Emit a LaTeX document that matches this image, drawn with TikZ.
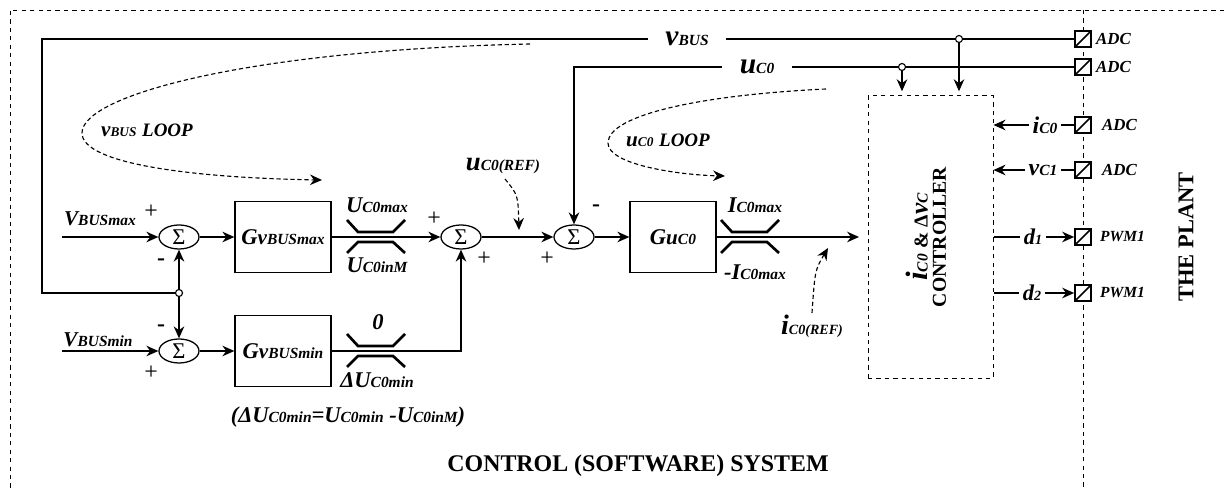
\documentclass[tikz,border=0pt]{standalone}
\usepackage{fontspec}
\setmainfont{Liberation Serif}
\usetikzlibrary{positioning}
\usetikzlibrary{arrows.meta}
\usetikzlibrary{shapes.geometric}
\usetikzlibrary{calc}

\newcommand{\fs}[1]{\fontsize{#1}{#1}\selectfont}
\newcommand{\sub}[1]{{\fs{11}#1}}

\begin{document}
\begin{tikzpicture}[
  x=0.025cm, y=-0.025cm,
  line width=1.2pt,
  >={Stealth[length=8.5pt,width=7.5pt]},
  every node/.style={font=\bfseries\itshape\fs{16}},
  blk/.style={draw, line width=0.9pt, minimum width=2.4cm,
    minimum height=1.775cm, inner sep=0pt},
  sum/.style={draw, ellipse, line width=0.9pt, minimum width=1cm,
    minimum height=0.6cm, inner sep=0pt, font=\fs{16}},
  conv/.style={draw, fill=white, minimum size=0.4cm, inner sep=0pt,
    path picture={\draw (path picture bounding box.south west)
      -- (path picture bounding box.north east);}},
  tap/.style={draw, fill=white, circle, inner sep=0pt, minimum size=5pt,
    line width=0.8pt},
  sgn/.style={font=\fs{17}},
  minus/.style={font=\bfseries\fs{17}},
  adc/.style={font=\bfseries\itshape\fs{12}, inner sep=1pt},
  pwm/.style={font=\bfseries\itshape\fs{11}, inner sep=1pt},
  gap/.style={inner xsep=12pt},
  sig/.style={inner xsep=2pt},
  loopline/.style={densely dashed, line width=0.8pt},
  frame/.style={dashed, line width=0.7pt},
  satur/.pic={
    \draw[line width=1.9pt] (-29,-17) -- (-18,-5) -- (17,-5) -- (29,-17);
    \draw[line width=1.9pt] (-29,16) -- (-18,5) -- (17,5) -- (29,16);
  },
]
  \useasboundingbox (0,0) rectangle (1224,490);

  % frame of the software part and the plant border
  \draw[frame] (1224,10) -- (10,10) -- (10,490);
  \draw[frame] (1083,10) -- (1083,490);

  % blocks
  \node[sum] (s1) at (179,237) {Σ};
  \node[sum] (s2) at (179,351) {Σ};
  \node[sum] (s3) at (461,237) {Σ};
  \node[sum] (s4) at (574,237) {Σ};
  \node[blk] (gmax) at (283,237) {G{\fs{15}v}\sub{BUSmax}};
  \node[blk] (gmin) at (283,351) {G{\fs{15}v}\sub{BUSmin}};
  \node[blk, minimum width=2.15cm] (guc) at (673,237) {G{\fs{15}u}\sub{C0}};
  \node[draw, frame, minimum width=3.125cm,
    minimum height=7.05cm] (ctrl) at (930.5,237) {};
  \node[rotate=90, align=center, inner sep=0pt] (ctrltxt) at (926,237)
    {{\fs{22}i}\sub{C0} {\upshape\fs{14}\& Δ}{\fs{18}v}\sub{C}\\[-3pt]
     {\upshape\fs{14}CONTROLLER}};

  % converters at the plant border
  \node[conv] (a1) at (1083,39) {};
  \node[conv] (a2) at (1083,67) {};
  \node[conv] (a3) at (1083,125) {};
  \node[conv] (a4) at (1083,170) {};
  \node[conv] (p1) at (1083,237) {};
  \node[conv] (p2) at (1083,293) {};
  \node[adc, right=0.05cm of a1] (a1l) {ADC};
  \node[adc, right=0.05cm of a2] (a2l) {ADC};
  \node[adc, right=0.2cm of a3] (a3l) {ADC};
  \node[adc, right=0.2cm of a4] (a4l) {ADC};
  \node[pwm, right=0.15cm of p1] (p1l) {PWM1};
  \node[pwm, right=0.15cm of p2] (p2l) {PWM1};

  % inputs
  \coordinate (vmaxin) at (62,237);
  \coordinate (vminin) at (62,351);
  \node (vmaxl) at (100,219) {{\fs{15}V}\sub{BUSmax}};
  \node (vminl) at (98,340) {{\fs{15}V}\sub{BUSmin}};
  \draw[->] (vmaxin) -- (s1);
  \draw[->] (vminin) -- (s2);

  % forward path
  \draw[->] (s1) -- (gmax);
  \draw[->] (s2) -- (gmin);
  \draw[->] (gmax) -- (s3);
  \draw[->] (gmin) -| (s3);
  \draw[->] (s3) -- (s4);
  \draw[->] (s4) -- (guc);
  \draw[->, shorten >=6pt] (guc) -- (ctrl);
  \pic at (376,237) {satur};
  \pic at (376,351) {satur};
  \pic at (750,237) {satur};
  \node (umax) at (377,205) {U\sub{C0max}};
  \node (uinm) at (377,265) {U\sub{C0inM}};
  \node (zero) at (378,322) {0};
  \node (dumin) at (377,380) {ΔU\sub{C0min}};
  \node (imax) at (755,205) {I\sub{C0max}};
  \node (imin) at (755,272) {-I\sub{C0max}};
  \node (note) at (348,417) {(ΔU\sub{C0min}=U\sub{C0min} -U\sub{C0inM})};

  % signs
  \node[sgn] at (151,212) {+};
  \node[minus] at (161,262) {-};
  \node[minus] at (161,328) {-};
  \node[sgn] at (151,373) {+};
  \node[sgn] at (434,219) {+};
  \node[sgn] at (484,259) {+};
  \node[minus] at (596,208) {-};
  \node[sgn] at (547,259) {+};

  % vBUS feedback
  \coordinate (c1) at (42,293);
  \coordinate (c2) at (42,39);
  \node[tap] (j1) at (179,293) {};
  \node[gap] (vbus) at (687,39) {{\fs{21}v}\sub{BUS}};
  \draw (j1) -- (c1) -- (c2) -- (vbus) -- (a1);
  \draw[->] (j1) -- (s1);
  \draw[->] (j1) -- (s2);

  % uC0 feedback
  \coordinate (c3) at (574,67);
  \node[gap] (uc) at (757,67) {{\fs{21}u}\sub{C0}};
  \draw[->] (a2) -- (uc) -- (c3) -- (s4);

  \node[tap] (t1) at (959,39) {};
  \node[tap] (t2) at (902,67) {};
  \draw[->, shorten >=3pt] (t1) -- (t1 |- ctrl.north);
  \draw[->, shorten >=3pt] (t2) -- (t2 |- ctrl.north);

  % measured and output signals
  \node[sig] (ic) at (1045,125) {{\fs{17}i}\sub{C0}};
  \node[sig] (vc) at (1043,170) {{\fs{17}v}\sub{C1}};
  \node[sig] (d1) at (1033,237) {d{\fs{10}1}};
  \node[sig] (d2) at (1032,293) {d{\fs{10}2}};
  \draw (a3) -- (ic);
  \draw[->] (ic) -- (ic -| ctrl.east);
  \draw (a4) -- (vc);
  \draw[->] (vc) -- (vc -| ctrl.east);
  \draw (ctrl) -- (d1);
  \draw[->] (d1) -- (p1);
  \draw (d2 -| ctrl.east) -- (d2);
  \draw[->] (d2) -- (p2);

  % loops and references
  \node (vloop) at (147,130) {{\fs{15}v}{\fs{9.5}BUS} {\fs{13.5}LOOP}};
  \node (uloop) at (668,140) {{\fs{15}u}{\fs{9.5}C0} {\fs{13.5}LOOP}};
  \draw[loopline, ->] (530,44) .. controls (250,50) and (82,95) .. (82,133)
    .. controls (82,165) and (200,178) .. (322,180);
  \draw[loopline, ->] (826,89) .. controls (700,95) and (608,115) .. (608,143)
    .. controls (608,165) and (680,175) .. (725,176);
  \node (uref) at (503,166) {{\fs{19}u}\sub{C0(REF)}};
  \node (iref) at (812,326) {{\fs{20}i}{\fs{10}C0(REF)}};
  \coordinate (urefpt) at (519,230);
  \coordinate (irefpt) at (828,248);
  \draw[loopline, ->] (505,179) .. controls (518,195) .. (urefpt);
  \draw[loopline, ->] (812,313) .. controls (815,270) .. (irefpt);

  % titles
  \node[font=\bfseries\fs{17}] (sys) at (638,466) {CONTROL (SOFTWARE) SYSTEM};
  \node[font=\bfseries\fs{16}, rotate=90] (plant) at (1186,237) {THE PLANT};
\end{tikzpicture}
\end{document}
